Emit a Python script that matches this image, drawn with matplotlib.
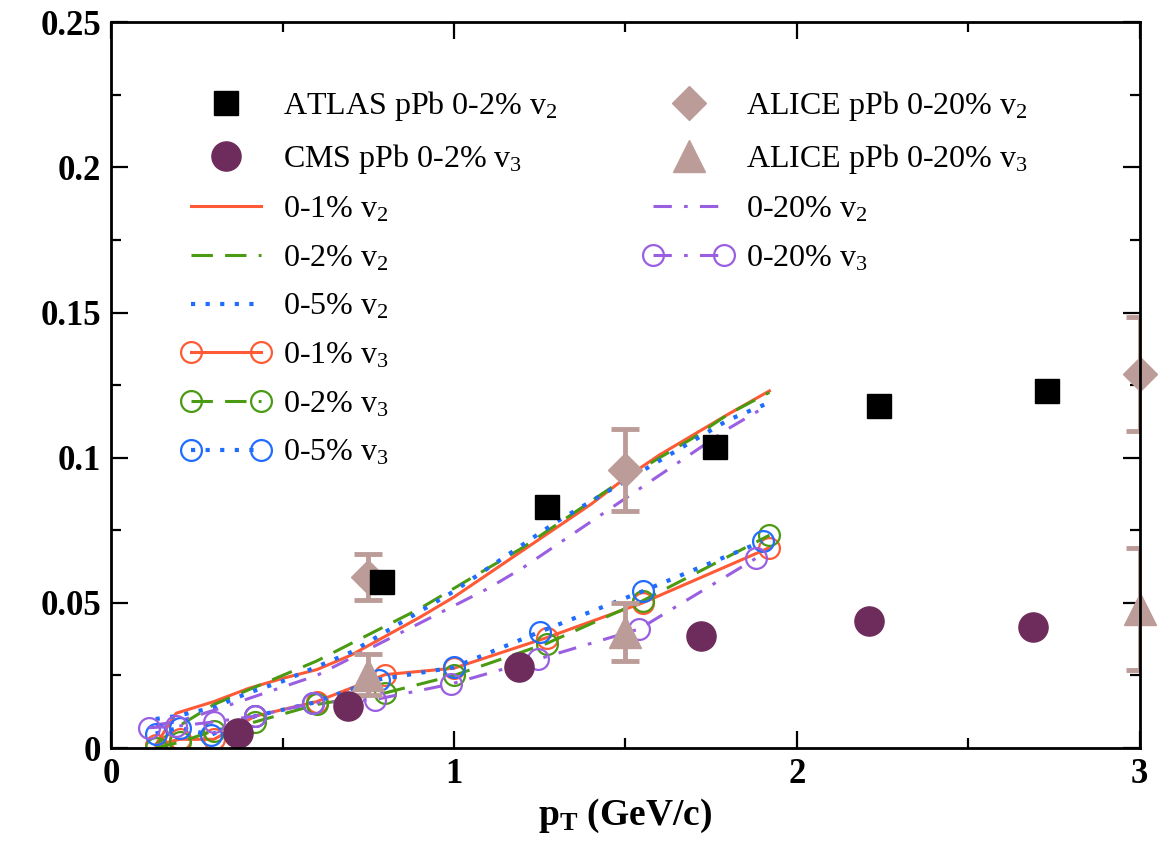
import matplotlib
matplotlib.use("Agg")
import matplotlib.pyplot as plt
from matplotlib.legend_handler import HandlerLine2D

plt.rcParams['font.family'] = ['Liberation Serif', 'DejaVu Serif']
plt.rcParams['mathtext.fontset'] = 'custom'
plt.rcParams['mathtext.rm'] = 'Liberation Serif'
plt.rcParams['mathtext.it'] = 'Liberation Serif:italic'
plt.rcParams['mathtext.bf'] = 'Liberation Serif:bold'

# --- experimental data ---
atlas_x = [0.79, 1.27, 1.76, 2.24, 2.73]
atlas_v2 = [0.0573, 0.083, 0.1038, 0.1177, 0.1229]

cms_x = [0.37, 0.69, 1.19, 1.72, 2.21, 2.69]
cms_v3 = [0.0052, 0.0146, 0.0278, 0.0385, 0.0438, 0.0417]

alice_x = [0.75, 1.5, 3.0]
alice_v2 = [0.059, 0.0958, 0.1288]
alice_v2_err = [0.008, 0.0142, 0.0196]
alice_v3 = [0.0253, 0.040, 0.048]
alice_v3_err = [0.007, 0.010, 0.021]

# --- model curves, v2 ---
pt_v2 = [0.13, 0.19, 0.3, 0.4, 0.5, 0.6, 0.7, 0.8, 0.9, 1.0, 1.1, 1.2, 1.3, 1.4,
         1.5, 1.6, 1.7, 1.8, 1.92]
v2_01 = [0.001, 0.012, 0.016, 0.0205, 0.024, 0.027, 0.032, 0.0385, 0.045, 0.052,
         0.060, 0.068, 0.076, 0.084, 0.093, 0.101, 0.108, 0.115, 0.123]
v2_02 = [0.001, 0.007, 0.015, 0.020, 0.025, 0.030, 0.036, 0.042, 0.048, 0.055,
         0.062, 0.069, 0.077, 0.085, 0.093, 0.100, 0.107, 0.115, 0.1225]
v2_05 = [0.010, 0.011, 0.014, 0.019, 0.023, 0.028, 0.033, 0.040, 0.047, 0.054,
         0.062, 0.070, 0.078, 0.085, 0.092, 0.099, 0.106, 0.113, 0.119]
pt_v2_20 = [0.13, 0.19, 0.3, 0.4, 0.5, 0.6, 0.7, 0.8, 0.9, 1.0, 1.1, 1.2, 1.3, 1.4,
            1.5, 1.6, 1.7, 1.8, 1.9]
v2_020 = [0.008, 0.009, 0.013, 0.017, 0.021, 0.025, 0.031, 0.037, 0.043, 0.049,
          0.055, 0.062, 0.070, 0.078, 0.086, 0.094, 0.102, 0.110, 0.117]

# --- model curves, v3 ---
pt_v3 = [0.13, 0.2, 0.3, 0.42, 0.6, 0.8, 1.0, 1.27, 1.55, 1.92]
v3_01 = [0.001, 0.003, 0.003, 0.011, 0.016, 0.0253, 0.0275, 0.038, 0.050, 0.069]
v3_02 = [0.0, 0.002, 0.006, 0.009, 0.015, 0.019, 0.025, 0.036, 0.0507, 0.0733]
pt_v3_05 = [0.13, 0.2, 0.29, 0.42, 0.59, 0.78, 1.0, 1.25, 1.55, 1.9]
v3_05 = [0.005, 0.007, 0.0045, 0.011, 0.0156, 0.0236, 0.0278, 0.040, 0.054, 0.0712]
pt_v3_20 = [0.11, 0.19, 0.3, 0.42, 0.59, 0.77, 0.99, 1.245, 1.54, 1.88]
v3_020 = [0.007, 0.0075, 0.009, 0.011, 0.0155, 0.0167, 0.022, 0.0306, 0.041, 0.0653]

c_or = '#ff5a36'
c_gr = '#4a9a12'
c_bl = '#1f6cff'
c_pu = '#9a5fe0'
c_cms = '#6e2c5c'
c_al = '#bc9c98'

fig = plt.figure(figsize=(11.63, 8.44), dpi=100)
ax = fig.add_axes([0.0955, 0.1137, 0.8845, 0.86])

l_or2, = ax.plot(pt_v2, v2_01, '-', color=c_or, lw=2.2, label='0-1% v$_\\mathrm{2}$')
l_gr2, = ax.plot(pt_v2, v2_02, '--', color=c_gr, lw=2.2, dashes=(7, 4),
                 label='0-2% v$_\\mathrm{2}$')
l_bl2, = ax.plot(pt_v2, v2_05, ':', color=c_bl, lw=3, dashes=(1, 2.5),
                 label='0-5% v$_\\mathrm{2}$')
l_pu2, = ax.plot(pt_v2_20, v2_020, '-.', color=c_pu, lw=2.2, dashes=(6, 4, 1.2, 4),
                 label='0-20% v$_\\mathrm{2}$')

mk = dict(marker='o', ms=15, mfc='none', mew=1.6)
l_or3, = ax.plot(pt_v3, v3_01, '-', color=c_or, lw=2.2, **mk, label='0-1% v$_\\mathrm{3}$')
l_gr3, = ax.plot(pt_v3, v3_02, '--', color=c_gr, lw=2.2, dashes=(7, 4), **mk,
                 label='0-2% v$_\\mathrm{3}$')
l_bl3, = ax.plot(pt_v3_05, v3_05, ':', color=c_bl, lw=3, dashes=(1, 2.5), **mk,
                 label='0-5% v$_\\mathrm{3}$')
l_pu3, = ax.plot(pt_v3_20, v3_020, '-.', color=c_pu, lw=2.2, dashes=(6, 4, 1.2, 4), **mk,
                 label='0-20% v$_\\mathrm{3}$')

ax.errorbar(alice_x, alice_v2, yerr=alice_v2_err, fmt='none', ecolor=c_al,
            elinewidth=3.5, capsize=10, capthick=3.5)
ax.errorbar(alice_x, alice_v3, yerr=alice_v3_err, fmt='none', ecolor=c_al,
            elinewidth=3.5, capsize=10, capthick=3.5)
l_ald, = ax.plot(alice_x, alice_v2, 'D', color=c_al, ms=17, clip_on=False,
                 label='ALICE pPb 0-20% v$_\\mathrm{2}$')
l_alt, = ax.plot(alice_x, alice_v3, '^', color=c_al, ms=23, clip_on=False,
                 label='ALICE pPb 0-20% v$_\\mathrm{3}$')
l_atl, = ax.plot(atlas_x, atlas_v2, 's', color='black', ms=17,
                 label='ATLAS pPb 0-2% v$_\\mathrm{2}$')
l_cms, = ax.plot(cms_x, cms_v3, 'o', color=c_cms, ms=21,
                 label='CMS pPb 0-2% v$_\\mathrm{3}$')

ax.set_xlim(0, 3)
ax.set_ylim(0, 0.25)
ax.set_xticks([0, 1, 2, 3])
ax.set_xticks([0.5, 1.5, 2.5], minor=True)
ax.set_yticks([0, 0.05, 0.1, 0.15, 0.2, 0.25])
ax.set_yticklabels(['0', '0.05', '0.1', '0.15', '0.2', '0.25'])
ax.set_yticks([0.025, 0.075, 0.125, 0.175, 0.225], minor=True)
ax.tick_params(which='both', direction='in', top=True, right=True, width=1.6)
ax.tick_params(which='major', length=12, labelsize=25, pad=7)
ax.tick_params(which='minor', length=7)
for lab in ax.get_xticklabels() + ax.get_yticklabels():
    lab.set_fontweight('bold')
for sp in ax.spines.values():
    sp.set_linewidth(2)

ax.set_xlabel('p$_\\mathbf{T}$ (GeV/c)', fontsize=27, fontweight='bold', labelpad=4)

one = HandlerLine2D(numpoints=1)
h1 = [l_atl, l_cms, l_or2, l_gr2, l_bl2, l_or3, l_gr3, l_bl3]
leg1 = ax.legend(handles=h1, loc='upper left', bbox_to_anchor=(0.04, 0.948),
                 frameon=False, fontsize=23, handlelength=2.8, handletextpad=0.4,
                 labelspacing=0.6, numpoints=2,
                 handler_map={l_atl: one, l_cms: one})
ax.add_artist(leg1)
h2 = [l_ald, l_alt, l_pu2, l_pu3]
ax.legend(handles=h2, loc='upper left', bbox_to_anchor=(0.49, 0.948),
          frameon=False, fontsize=23, handlelength=2.8, handletextpad=0.4,
          labelspacing=0.6, numpoints=2,
          handler_map={l_ald: one, l_alt: one})

fig.savefig('out.png', dpi=100)
